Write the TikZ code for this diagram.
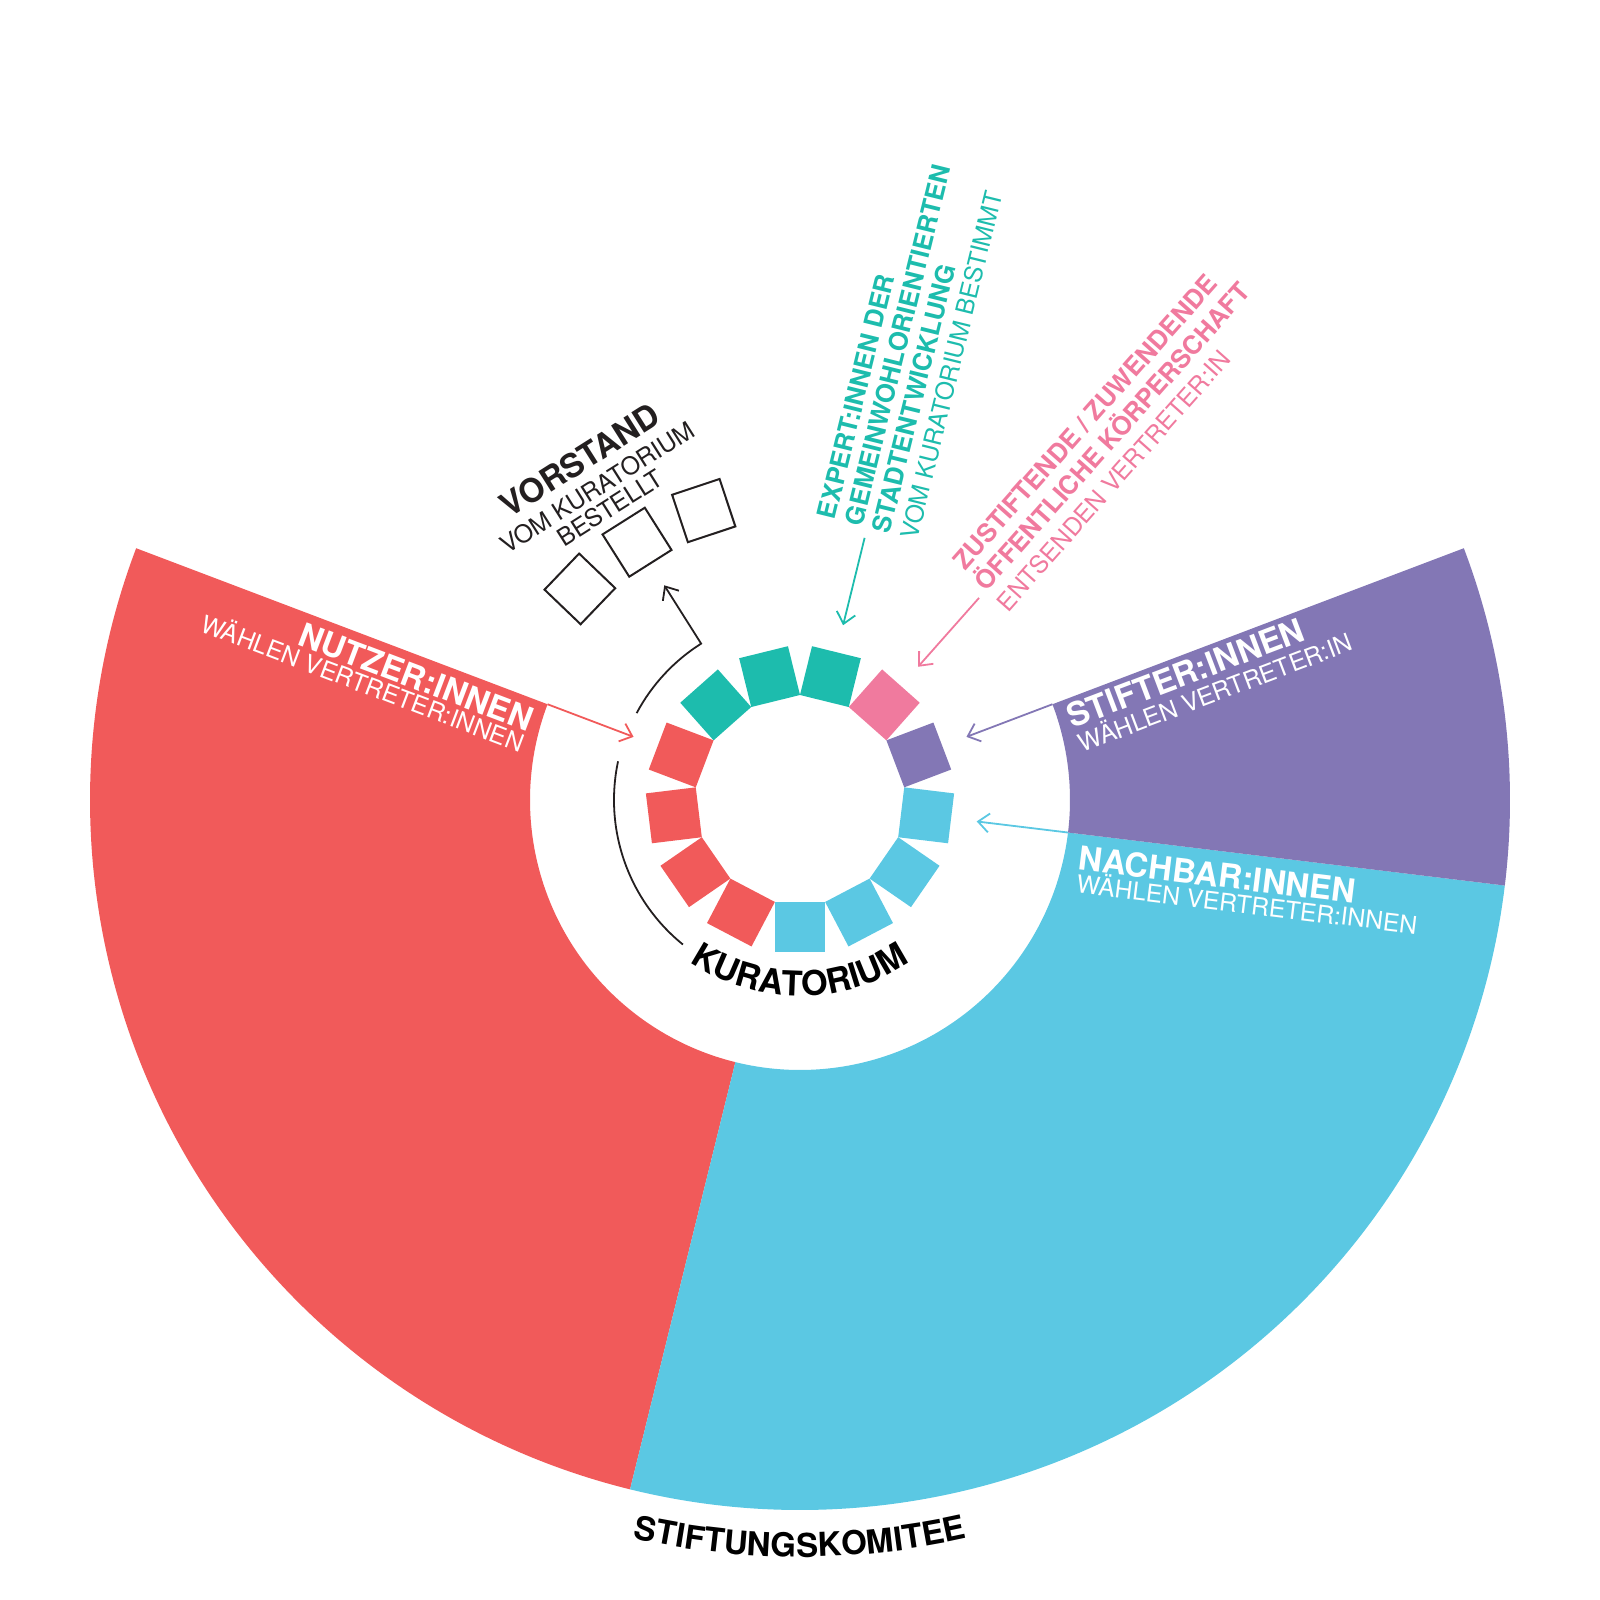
\documentclass[tikz,border=0pt]{standalone}
\usepackage{fontspec}
\setmainfont{TeX Gyre Heros}
\usetikzlibrary{arrows.meta,decorations.text}
\definecolor{cred}{HTML}{F15A5A}
\definecolor{cblue}{HTML}{5BC8E3}
\definecolor{cpurple}{HTML}{8377B5}
\definecolor{cteal}{HTML}{1DBCAD}
\definecolor{cpink}{HTML}{F07A9E}
\definecolor{cblack}{HTML}{231F20}
\newcommand\fBig{\fontsize{33}{33}\selectfont\bfseries}
\newcommand\fCurve{\fontsize{34.3}{34}\selectfont\bfseries}
\newcommand\fMid{\fontsize{25.7}{26}\selectfont\bfseries}
\newcommand\fLite{\fontsize{24.6}{26}\selectfont}
\begin{document}
\begin{tikzpicture}[x=1pt,y=1pt,
  lbl/.style={inner sep=0pt, outer sep=0pt},
  sq/.style={shape=rectangle, minimum size=50.26pt, inner sep=0pt, outer sep=0pt, draw=none},
  vsq/.style={shape=rectangle, minimum size=50pt, inner sep=0pt, outer sep=0pt, draw=cblack, line width=2pt},
  arr/.style={line width=1.8pt, -{Straight Barb[length=11pt,width=19pt,line width=1.8pt]}},
  thinline/.style={line width=1.8pt, draw=cblack}]
\useasboundingbox (-800,-800) rectangle (800,800);

% big annular sectors
\fill[cred] (159.23:270) -- (159.23:710) arc[start angle=159.23,end angle=256.15,radius=710]
  -- (256.15:270) arc[start angle=256.15,end angle=159.23,radius=270] -- cycle;
\fill[cblue] (256.15:270) -- (256.15:710) arc[start angle=256.15,end angle=353.08,radius=710]
  -- (353.08:270) arc[start angle=353.08,end angle=256.15,radius=270] -- cycle;
\fill[cpurple] (-6.92:270) -- (-6.92:710) arc[start angle=-6.92,end angle=20.77,radius=710]
  -- (20.77:270) arc[start angle=20.77,end angle=-6.92,radius=270] -- cycle;

% kuratorium ring of squares
\foreach \k/\c in {0/cblue,1/cblue,2/cblue,3/cblue,4/cpurple,5/cpink,6/cteal,7/cteal,8/cteal,9/cred,10/cred,11/cred,12/cred}{
  \node[sq, fill=\c, rotate={270+\k*27.6923}] (k\k) at ({270+\k*27.6923}:127.08) {};
}

% vorstand squares
\foreach \i/\a in {1/136.2,2/122.3,3/108.4}{
  \node[vsq, rotate=\a] (v\i) at (\a:305) {};
}

% arrow end points
\coordinate (redA) at (159.23:270);  \coordinate (redB) at (159.23:178);
\coordinate (purA) at (20.77:270);   \coordinate (purB) at (20.77:178);
\coordinate (bluA) at (-6.92:270);   \coordinate (bluB) at (-6.92:178);
\coordinate (teaA) at (76.15:270);   \coordinate (teaB) at (76.15:180);
\coordinate (pinA) at (48.46:270);   \coordinate (pinB) at (48.46:178);
\coordinate (arcL) at (168:186);
\coordinate (arcT) at (152:185);
\coordinate (vtip) at (122.3:254);

\draw[arr, cred] (redA) -- (redB);
\draw[arr, cpurple] (purA) -- (purB);
\draw[arr, cblue] (bluA) -- (bluB);
\draw[arr, cteal] (teaA) -- (teaB);
\draw[arr, cpink] (pinA) -- (pinB);
\draw[thinline] (arcL) arc[start angle=168,end angle=231,radius=186];
\draw[arr, cblack] (arcT) arc[start angle=152,end angle=122.3,radius=185] -- (vtip);

% sector labels
\begin{scope}[rotate=-20.77, transform shape]
  \node[lbl, anchor=base east, text=white, font=\fBig] (nutzer) at (-279,-33) {NUTZER:INNEN};
  \node[lbl, anchor=base east, text=white, font=\fLite] (nutzerB) at (-279,-55) {WÄHLEN VERTRETER:INNEN};
\end{scope}
\begin{scope}[rotate=20.77, transform shape]
  \node[lbl, anchor=base west, text=white, font=\fBig] (stifter) at (280,-30) {STIFTER:INNEN};
  \node[lbl, anchor=base west, text=white, font=\fLite] (stifterB) at (281,-56) {WÄHLEN VERTRETER:IN};
\end{scope}
\begin{scope}[rotate=-6.92, transform shape]
  \node[lbl, anchor=base west, text=white, font=\fBig] (nachbar) at (284,-36) {NACHBAR:INNEN};
  \node[lbl, anchor=base west, text=white, font=\fLite] (nachbarB) at (285,-59) {WÄHLEN VERTRETER:INNEN};
\end{scope}

% callout labels
\begin{scope}[rotate=76.15, transform shape]
  \node[lbl, anchor=base west, text=cteal, font=\fMid] (exp1) at (280,33) {EXPERT:INNEN DER};
  \node[lbl, anchor=base west, text=cteal, font=\fMid] (exp2) at (280,4.7) {GEMEINWOHLORIENTIERTEN};
  \node[lbl, anchor=base west, text=cteal, font=\fMid] (exp3) at (279,-23.7) {STADTENTWICKLUNG};
  \node[lbl, anchor=base west, text=cteal, font=\fLite] (exp4) at (280,-52) {VOM KURATORIUM BESTIMMT};
\end{scope}
\begin{scope}[rotate=48.46, transform shape]
  \node[lbl, anchor=base west, text=cpink, font=\fMid] (zu1) at (281,28) {ZUSTIFTENDE / ZUWENDENDE};
  \node[lbl, anchor=base west, text=cpink, font=\fMid] (zu2) at (279,-2) {ÖFFENTLICHE KÖRPERSCHAFT};
  \node[lbl, anchor=base west, text=cpink, font=\fLite] (zu3) at (278,-32) {ENTSENDEN VERTRETER:IN};
\end{scope}
\begin{scope}[shift={(-198,305)}, rotate=32.3, transform shape]
  \node[lbl, anchor=base, text=cblack, font=\fBig] (vor1) at (0,29) {VORSTAND};
  \node[lbl, anchor=base, text=cblack, font=\fLite] (vor2) at (0,0) {VOM KURATORIUM};
  \node[lbl, anchor=base, text=cblack, font=\fLite] (vor3) at (0,-24) {BESTELLT};
\end{scope}

% curved titles
\begin{scope}[color=cblack]
\path[decorate, decoration={text along path, text align=center, text={|\fCurve|KURATORIUM}}]
  (215:196) arc[start angle=215,end angle=325,radius=196];
\path[decorate, decoration={text along path, text align=center, text={|\fBig|STIFTUNGSKOMITEE}}]
  (240:757) arc[start angle=240,end angle=300,radius=757];
\end{scope}
\end{tikzpicture}
\end{document}
